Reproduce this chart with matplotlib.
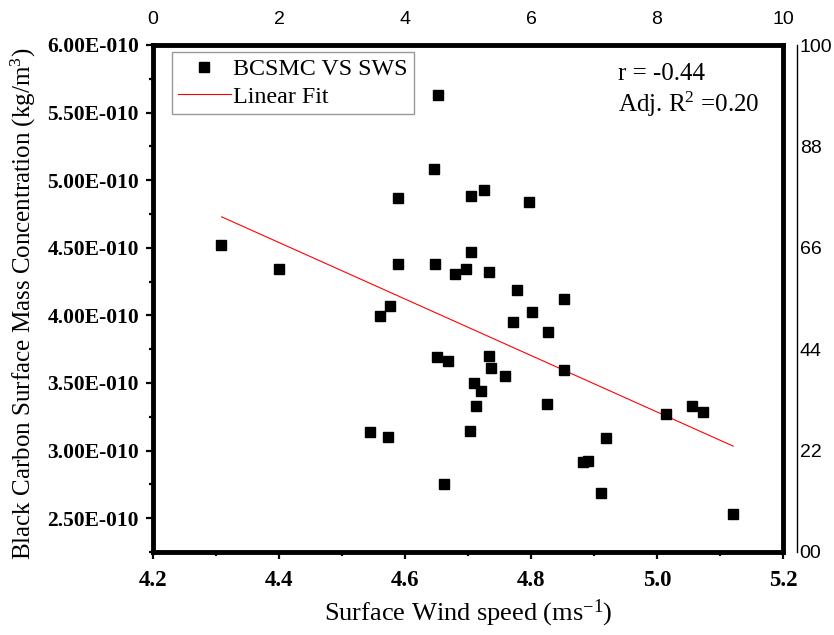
import numpy as np
import matplotlib
matplotlib.use("Agg")
import matplotlib.pyplot as plt
from matplotlib.ticker import MultipleLocator, FuncFormatter

plt.rcParams['font.family'] = ['Liberation Serif', 'DejaVu Serif']
plt.rcParams['mathtext.fontset'] = 'custom'
plt.rcParams['mathtext.rm'] = 'Liberation Serif'
plt.rcParams['mathtext.it'] = 'Liberation Serif:italic'

# surface wind speed (m/s) and black carbon surface mass concentration (x 1e-10 kg/m3)
wind = [4.308, 4.400, 4.589, 4.646, 4.652, 4.705, 4.726, 4.797, 4.589, 4.648,
        4.705, 4.697, 4.680, 4.733, 4.777, 4.853, 4.801, 4.771, 4.827, 4.576,
        4.561, 4.650, 4.668, 4.734, 4.737, 4.759, 4.852, 4.710, 4.721, 4.712,
        4.703, 4.545, 4.573, 4.662, 4.826, 4.919, 4.883, 4.890, 4.911, 5.015,
        5.055, 5.073, 5.120]
bc = [4.524, 4.346, 4.872, 5.080, 5.631, 4.884, 4.925, 4.837, 4.383, 4.383,
      4.468, 4.341, 4.304, 4.321, 4.188, 4.119, 4.026, 3.952, 3.878, 4.070,
      3.996, 3.689, 3.662, 3.701, 3.608, 3.555, 3.598, 3.498, 3.443, 3.333,
      3.146, 3.136, 3.104, 2.755, 3.343, 3.092, 2.915, 2.922, 2.684, 3.271,
      3.328, 3.284, 2.532]

# linear fit end points
fit_x = [4.309, 5.121]
fit_y = [4.729, 3.033]

r_text = "r = -0.44"
r2_text = "Adj. R$^2$ =0.20"

top_ticks = [0, 2, 4, 6, 8, 10]
right_ticks = [0, 20, 40, 60, 80, 100]
right_labels = ["00", "22", "44", "66", "88", "100"]

scale = 1e-10
bc = np.array(bc) * scale
fit_y = np.array(fit_y) * scale

fig = plt.figure(figsize=(8.34, 6.35), dpi=100)
ax = fig.add_axes([153/834, 1-552/635, 630/834, 507/635])

ax.plot(wind, bc, ls='none', marker='s', ms=7.8, color='black', label='BCSMC VS SWS', zorder=3)
ax.plot(fit_x, fit_y, color='red', lw=0.8, label='Linear Fit')

ax.set_xlim(4.2, 5.2)
ax.set_ylim(2.25e-10, 6.0e-10)
ax.xaxis.set_major_locator(MultipleLocator(0.2))
ax.xaxis.set_minor_locator(MultipleLocator(0.1))
ax.yaxis.set_major_locator(MultipleLocator(0.5e-10))
ax.yaxis.set_minor_locator(MultipleLocator(0.25e-10))


def efmt(v, pos):
    m = v / 1e-10
    return f"{m:.2f}E-010"


ax.yaxis.set_major_formatter(FuncFormatter(efmt))
ax.xaxis.set_major_formatter(FuncFormatter(lambda v, p: f"{v:.1f}"))
ax.yaxis.get_offset_text().set_visible(False)

for s in ax.spines.values():
    s.set_linewidth(3.5)
ax.tick_params(which='major', direction='out', length=5, width=1.6)
ax.tick_params(which='minor', direction='out', length=3, width=1.6)
ax.tick_params(axis='y', pad=5, labelsize=15.5)
ax.tick_params(axis='x', pad=8, labelsize=16.5)
for lab in ax.get_xticklabels() + ax.get_yticklabels():
    lab.set_fontweight('bold')

ax.set_xlabel("Surface Wind speed (ms$^{-1}$)", fontsize=19)
ax.set_ylabel("Black Carbon Surface Mass Concentration (kg/m$^{3}$)", fontsize=18)
ax.xaxis.set_label_coords(0.5, -0.09)
ax.yaxis.set_label_coords(-0.183, 0.49)

leg = ax.legend(loc='upper left', bbox_to_anchor=(0.03, 0.986), borderaxespad=0,
                fontsize=17.3, frameon=True, fancybox=False, numpoints=1,
                handlelength=2.2, handletextpad=0.1, borderpad=0.25, labelspacing=0.25)
leg.get_frame().set_edgecolor('#808080')
leg.get_frame().set_linewidth(1.0)

ax.text(0.738, 0.943, r_text, transform=ax.transAxes, fontsize=18, va='center', ha='left')
ax.text(0.738, 0.883, r2_text, transform=ax.transAxes, fontsize=18, va='center', ha='left')

# top axis
axt = ax.twiny()
axt.set_xlim(0, 10)
axt.set_xticks(top_ticks)
axt.set_xticklabels([str(t) for t in top_ticks])
axt.tick_params(axis='x', length=0, pad=12, labelsize=14, labelfontfamily='Liberation Sans')
for s in axt.spines.values():
    s.set_visible(False)

# right axis, offset
axr = ax.twinx()
axr.set_ylim(0, 100)
axr.set_yticks(right_ticks)
axr.set_yticklabels(right_labels)
axr.tick_params(axis='y', length=0, pad=2, labelsize=14, labelfontfamily='Liberation Sans')
for k, s in axr.spines.items():
    s.set_visible(k == 'right')
axr.spines['right'].set_position(('outward', 10))
axr.spines['right'].set_linewidth(1.0)

fig.savefig("out.png", dpi=100)
